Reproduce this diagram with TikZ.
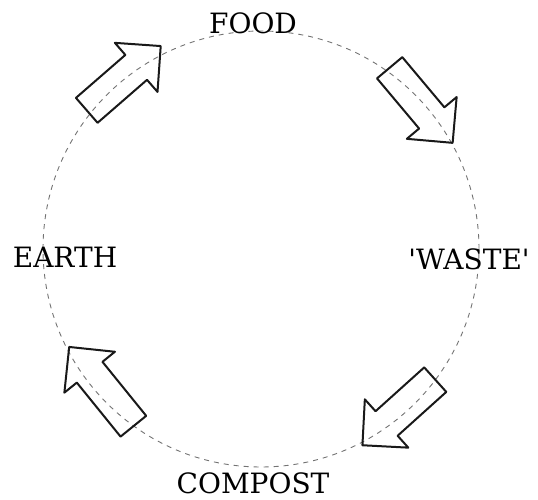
\documentclass[tikz,border=0pt]{standalone}
\usepackage{fontspec}
\setmainfont{DejaVu Serif}
\usetikzlibrary{shapes.arrows}
\tikzset{
  stagelabel/.style={font=\fontsize{28}{30}\selectfont, text=black,
                     inner sep=0pt, anchor=center},
  cyclearrow/.style={single arrow, draw=black!90, line width=2pt,
                     line join=round, inner xsep=0pt, inner ysep=15.5pt,
                     single arrow head extend=16pt, single arrow tip angle=90,
                     minimum height=#1, anchor=tail},
  cyclearrow/.default=98pt,
  ring/.style={draw=black!55, line width=0.9pt, dash pattern=on 5pt off 5pt},
}
\begin{document}
\begin{tikzpicture}[x=1pt, y=1pt]
  \useasboundingbox (0,0) rectangle (538,-500);

  % --- dashed cycle ---
  \draw[ring] (261,-249) circle[radius=218];

  % --- stages ---
  \node[stagelabel] (food)    at (253,-23)  {FOOD};
  \node[stagelabel] (waste)   at (469,-259) {\textquotesingle WASTE\textquotesingle};
  \node[stagelabel] (compost) at (253,-483) {COMPOST};
  \node[stagelabel] (earth)   at (65,-257)  {EARTH};

  % --- arrows along the cycle ---
  \node[cyclearrow, rotate=41]   (toFood)    at (86,-111)  {};
  \node[cyclearrow, rotate=-50]  (toWaste)   at (389,-67)  {};
  \node[cyclearrow, rotate=-138] (toCompost) at (436,-379) {};
  \node[cyclearrow=102pt, rotate=129] (toEarth) at (134,-427) {};

\end{tikzpicture}
\end{document}
